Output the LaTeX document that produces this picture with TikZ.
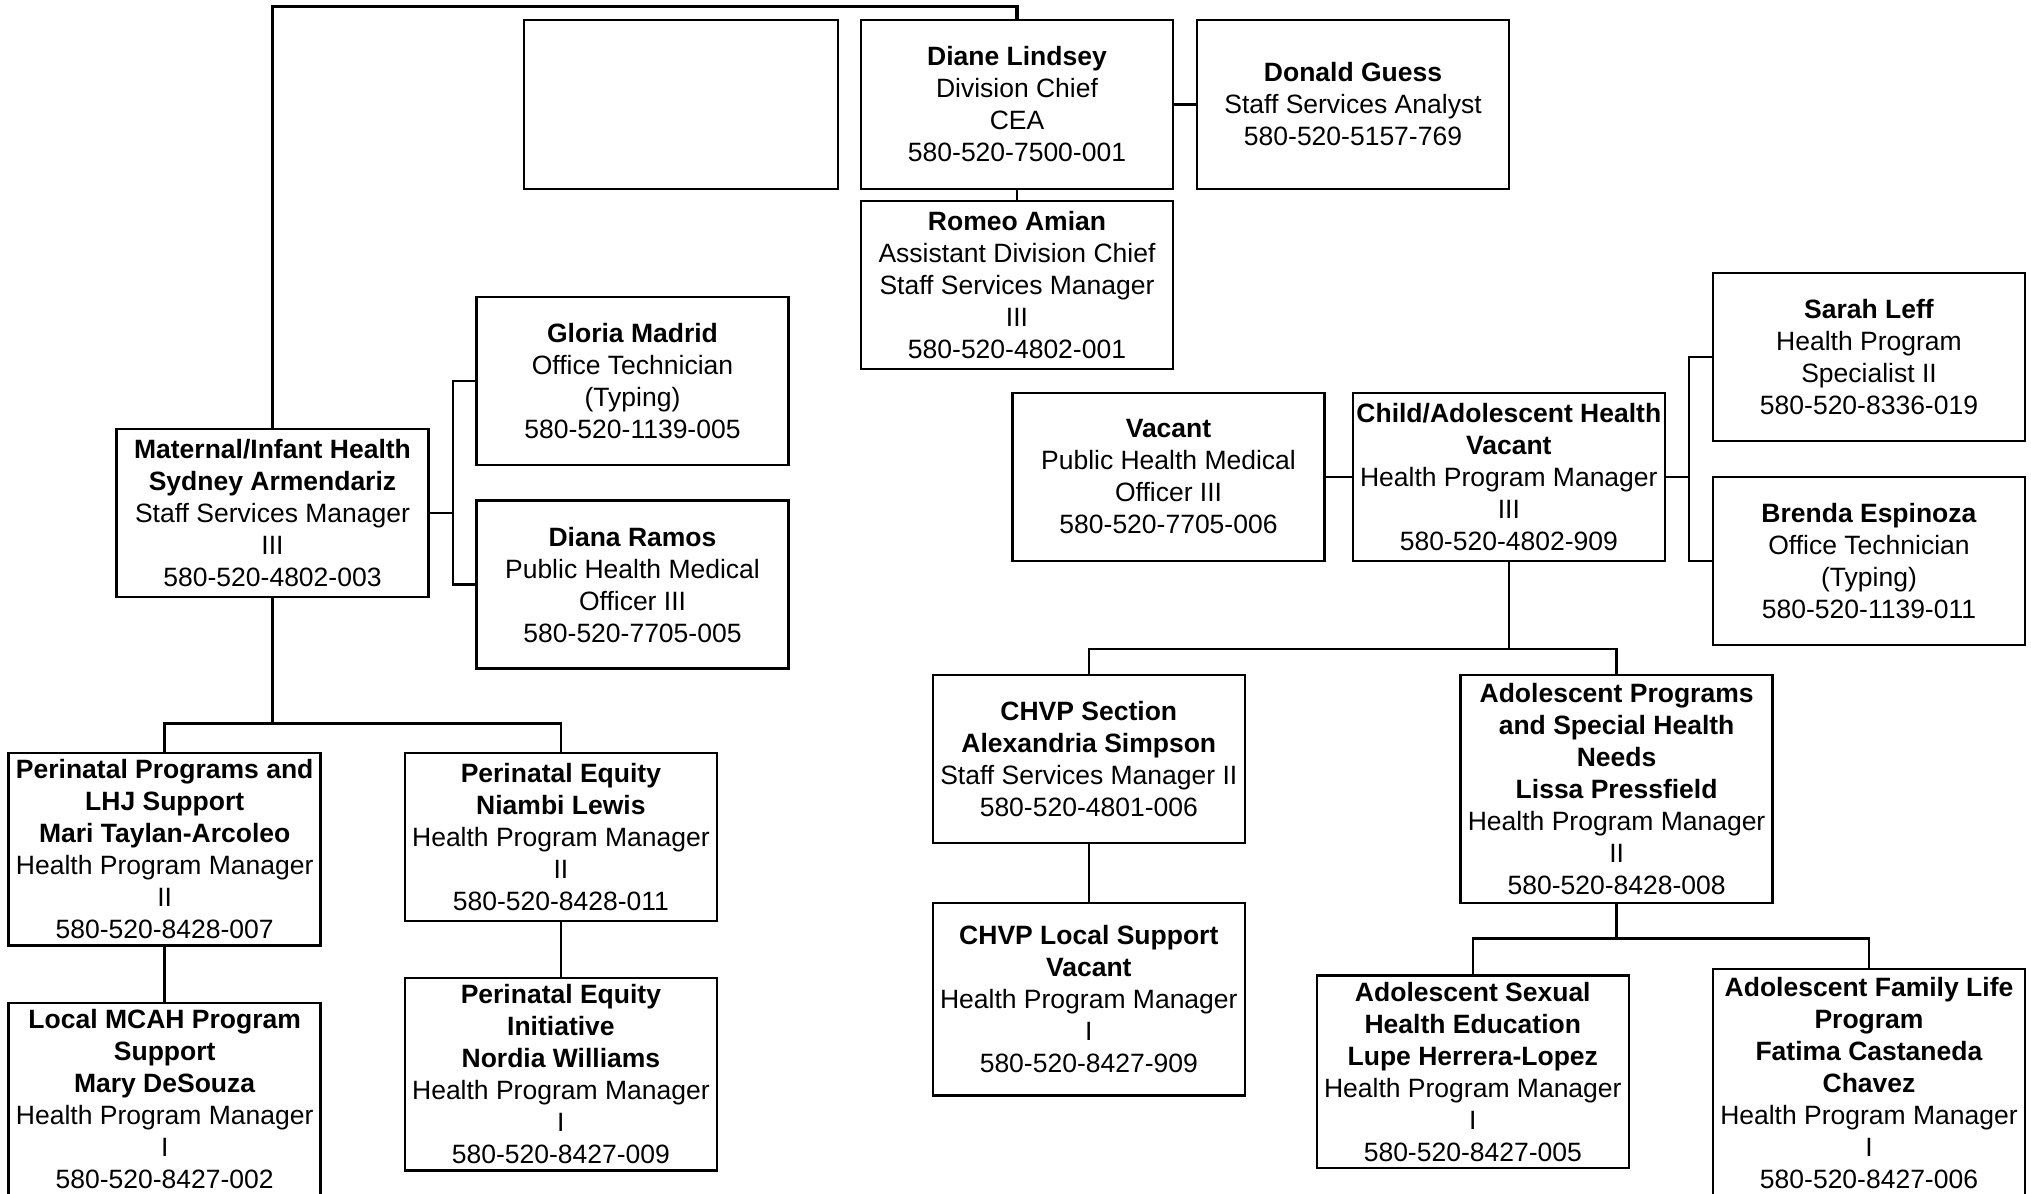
\documentclass[tikz,border=0pt]{standalone}
\usepackage{fontspec}
\setmainfont{Liberation Sans}
\usepackage{tikz}

\begin{document}
\begin{tikzpicture}[x=0.4pt,y=-0.4pt,font=\fontsize{10.6}{12.8}\selectfont,line width=1pt]
    \tikzstyle{box node}=[draw,rectangle,align=center,inner sep=1pt,minimum width=124.8pt,minimum height=67.2pt]
    \tikzstyle{tall node}=[box node,minimum height=77pt]
    \tikzstyle{taller node}=[box node,minimum height=91.2pt]
    \tikzstyle{blank node}=[draw,rectangle,line width=0.5pt,minimum width=125.6pt,minimum height=67.6pt]

    \useasboundingbox (0,0) rectangle (2031,1193);
    \clip (0,0) rectangle (2031,1193);

    \node(blank)[blank node] at (681,104.5) {};
    \node(chief)[box node,minimum height=67.6pt] at (1017,104.5) {\textbf{Diane Lindsey}\\Division Chief\\CEA\\580-520-7500-001};
    \node(analyst)[box node,minimum height=67.6pt] at (1353,104.5) {\textbf{Donald Guess}\\Staff Services Analyst\\580-520-5157-769};
    \node(asst)[box node] at (1017,285) {\textbf{Romeo Amian}\\Assistant Division Chief\\Staff Services Manager\\III\\580-520-4802-001};

    \node(mih)[box node] at (272.5,513) {\textbf{Maternal/Infant Health}\\\textbf{Sydney Armendariz}\\Staff Services Manager\\III\\580-520-4802-003};
    \node(gloria)[box node] at (632.5,381) {\textbf{Gloria Madrid}\\Office Technician\\(Typing)\\580-520-1139-005};
    \node(ramos)[box node] at (632.5,584.7) {\textbf{Diana Ramos}\\Public Health Medical\\Officer III\\580-520-7705-005};
    \node(ppl)[tall node] at (164.7,849) {\textbf{Perinatal Programs and}\\\textbf{LHJ Support}\\\textbf{Mari Taylan-Arcoleo}\\Health Program Manager\\II\\580-520-8428-007};
    \node(mcah)[tall node] at (164.7,1099) {\textbf{Local MCAH Program}\\\textbf{Support}\\\textbf{Mary DeSouza}\\Health Program Manager\\I\\580-520-8427-002};
    \node(equity)[box node] at (560.9,837) {\textbf{Perinatal Equity}\\\textbf{Niambi Lewis}\\Health Program Manager\\II\\580-520-8428-011};
    \node(pei)[tall node] at (560.9,1074) {\textbf{Perinatal Equity}\\\textbf{Initiative}\\\textbf{Nordia Williams}\\Health Program Manager\\I\\580-520-8427-009};

    \node(phmo)[box node] at (1168.5,477) {\textbf{Vacant}\\Public Health Medical\\Officer III\\580-520-7705-006};
    \node(cah)[box node] at (1508.8,477) {\textbf{Child/Adolescent Health}\\\textbf{Vacant}\\Health Program Manager\\III\\580-520-4802-909};
    \node(leff)[box node] at (1869,357) {\textbf{Sarah Leff}\\Health Program\\Specialist II\\580-520-8336-019};
    \node(espinoza)[box node] at (1869,560.8) {\textbf{Brenda Espinoza}\\Office Technician\\(Typing)\\580-520-1139-011};
    \node(chvp)[box node] at (1088.8,759) {\textbf{CHVP Section}\\\textbf{Alexandria Simpson}\\Staff Services Manager II\\580-520-4801-006};
    \node(chvplocal)[tall node] at (1088.8,999) {\textbf{CHVP Local Support}\\\textbf{Vacant}\\Health Program Manager\\I\\580-520-8427-909};
    \node(apshn)[taller node] at (1616.6,789) {\textbf{Adolescent Programs}\\\textbf{and Special Health}\\\textbf{Needs}\\\textbf{Lissa Pressfield}\\Health Program Manager\\II\\580-520-8428-008};
    \node(ashe)[tall node] at (1472.8,1071.8) {\textbf{Adolescent Sexual}\\\textbf{Health Education}\\\textbf{Lupe Herrera-Lopez}\\Health Program Manager\\I\\580-520-8427-005};
    \node(afl)[taller node] at (1869,1083) {\textbf{Adolescent Family Life}\\\textbf{Program}\\\textbf{Fatima Castaneda}\\\textbf{Chavez}\\Health Program Manager\\I\\580-520-8427-006};

    \coordinate(top) at (1017,6.5);
    \coordinate(s1) at (453,513);
    \coordinate(b1) at (272.5,723.7);
    \coordinate(s2) at (1689,477);
    \coordinate(b2) at (1508.8,649);
    \coordinate(b3) at (1616.6,938.5);

    \draw[line width=1.3pt] (mih.north) |- (top) -- (chief.north);
    \draw (chief.south) -- (asst.north);
    \draw (chief.east) -- (analyst.west);
    \draw (mih.east) -- (s1);
    \draw (gloria.west) -| (s1) |- (ramos.west);
    \draw (mih.south) -- (b1);
    \draw (ppl.north) |- (b1) -| (equity.north);
    \draw (ppl.south) -- (mcah.north);
    \draw (equity.south) -- (pei.north);
    \draw (phmo.east) -- (cah.west);
    \draw (cah.east) -- (s2);
    \draw (leff.west) -| (s2) |- (espinoza.west);
    \draw (cah.south) -- (b2);
    \draw (chvp.north) |- (b2) -| (apshn.north);
    \draw (chvp.south) -- (chvplocal.north);
    \draw (apshn.south) -- (b3);
    \draw (ashe.north) |- (b3) -| (afl.north);
\end{tikzpicture}
\end{document}
